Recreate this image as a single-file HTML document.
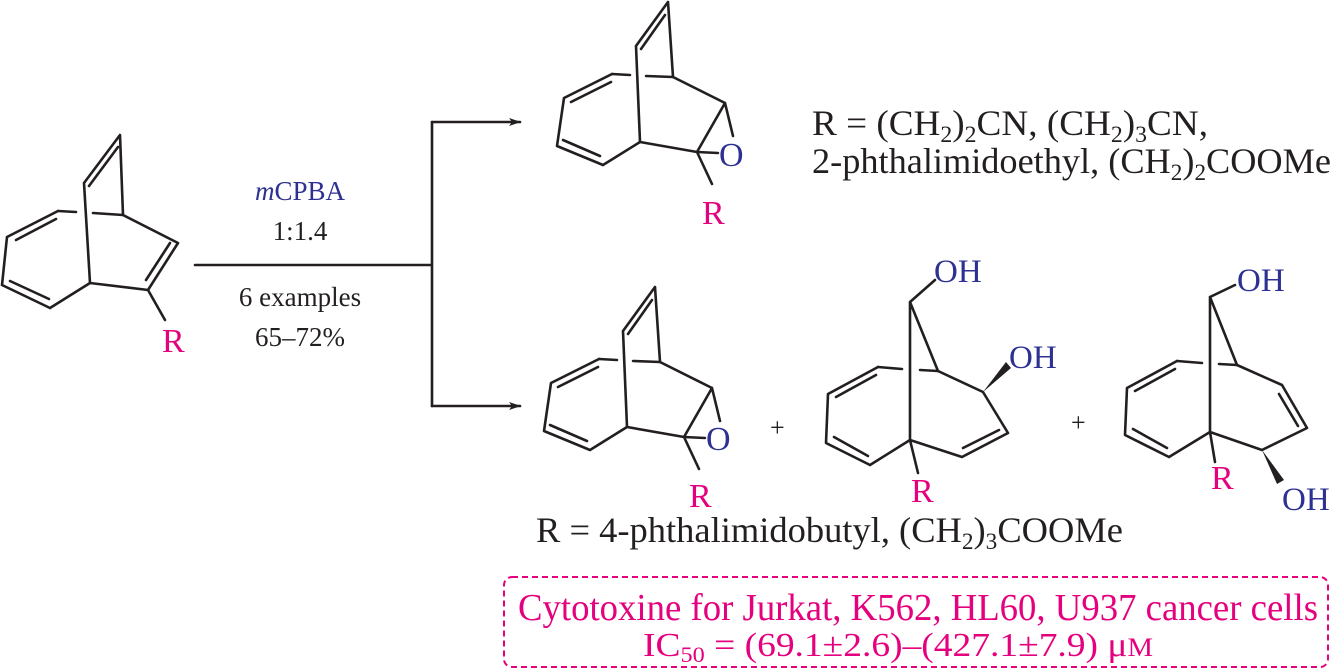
<!DOCTYPE html>
<html><head><meta charset="utf-8"><style>
html,body{margin:0;padding:0;background:#fff}
svg{display:block}
text{font-family:"Liberation Serif",serif}
.b{stroke:#231f20;stroke-width:2.6;fill:none;stroke-linecap:round;stroke-linejoin:round}
.m{fill:#e5007e}
.u{fill:#2e3192}
.k{fill:#231f20}
</style></head><body>
<svg width="1333" height="671" viewBox="0 0 1333 671" xmlns="http://www.w3.org/2000/svg">
<defs>
<marker id="ah" markerWidth="12" markerHeight="8" refX="11" refY="4" orient="auto" markerUnits="userSpaceOnUse">
<path d="M0,0 L12,4 L0,8 L3,4 Z" fill="#231f20"/></marker>
</defs>

<!-- starting material -->
<g class="b">
<path d="M120,135 L84,183 M89,186 L118,147 M120,135 L123,215 M84,183 L90,283"/>
<path d="M58,211 L76,212 M93,213 L123,215"/>
<path d="M58,211 L7,237 M56,219 L16,240 M7,237 L2,285 M2,285 L50,308 M10,281 L49,299 M50,308 L90,283 L148,290 L178,243 M146,280 L170,243 M178,243 L123,215 M148,290 L165,320"/>
</g>
<text x="162" y="352" font-size="34" class="m">R</text>

<!-- reagents -->
<text x="300" y="200" font-size="27" text-anchor="middle" class="u"><tspan font-style="italic">m</tspan>CPBA</text>
<text x="300" y="240" font-size="27" text-anchor="middle" class="k">1:1.4</text>
<text x="300" y="306" font-size="27" text-anchor="middle" class="k">6 examples</text>
<text x="300" y="346" font-size="27" text-anchor="middle" class="k">65–72%</text>

<!-- arrows -->
<g class="b" stroke-width="1.8">
<path d="M195,265 L432,265 M432,122 L432,406"/>
<path d="M432,122 L520,122" marker-end="url(#ah)"/>
<path d="M432,406 L520,406" marker-end="url(#ah)"/>
</g>

<!-- top epoxide -->
<g class="b">
<path d="M668,2 L636,46 M641,49 L665,15 M668,2 L673,77 M636,46 L640,142"/>
<path d="M612,74 L630,75 M646,76 L673,77"/>
<path d="M612,74 L564,98 M611,82 L571,102 M564,98 L557,146 L603,165 M563,140 L600,156 M603,165 L640,142 L697,152 L725,103 L673,77 M725,103 L733,136 M697,152 L718,153 M697,152 L712,184"/>
</g>
<text x="719" y="166" font-size="34" class="u">O</text>
<text x="702" y="224" font-size="34" class="m">R</text>

<text x="812" y="135" font-size="36" class="k" textLength="396" lengthAdjust="spacingAndGlyphs">R = (CH<tspan font-size="23" dy="7">2</tspan><tspan dy="-7">)</tspan><tspan font-size="23" dy="7">2</tspan><tspan dy="-7">CN, (CH</tspan><tspan font-size="23" dy="7">2</tspan><tspan dy="-7">)</tspan><tspan font-size="23" dy="7">3</tspan><tspan dy="-7">CN,</tspan></text>
<text x="812" y="173" font-size="36" class="k" textLength="519" lengthAdjust="spacingAndGlyphs">2-phthalimidoethyl, (CH<tspan font-size="23" dy="7">2</tspan><tspan dy="-7">)</tspan><tspan font-size="23" dy="7">2</tspan><tspan dy="-7">COOMe</tspan></text>

<!-- bottom epoxide -->
<g class="b" transform="translate(-13,285)">
<path d="M668,2 L636,46 M641,49 L665,15 M668,2 L673,77 M636,46 L640,142"/>
<path d="M612,74 L630,75 M646,76 L673,77"/>
<path d="M612,74 L564,98 M611,82 L571,102 M564,98 L557,146 L603,165 M563,140 L600,156 M603,165 L640,142 L697,152 L725,103 L673,77 M725,103 L733,136 M697,152 L718,153 M697,152 L712,184"/>
</g>
<text x="706" y="450" font-size="34" class="u">O</text>
<text x="689" y="507" font-size="34" class="m">R</text>

<text x="770" y="436" font-size="26" class="k">+</text>
<text x="1071" y="431" font-size="26" class="k">+</text>

<!-- middle diol -->
<g class="b">
<path d="M910,302 L935,280 M910,302 L910,440 M910,302 L938,371"/>
<path d="M878,367 L902,369 M920,370 L938,371"/>
<path d="M878,367 L828,394 M876,375 L836,397 M828,394 L826,443 L870,465 M834,437 L868,456 M870,465 L910,440 L962,457 L1008,433 M963,448 L999,430 M1008,433 L983,392 L938,371 M910,440 L918,473"/>
</g>
<path d="M983,392 L1006,362 L1011,368 Z" fill="#231f20"/>
<text x="934" y="282" font-size="33" class="u">OH</text>
<text x="1009" y="368" font-size="33" class="u">OH</text>
<text x="911" y="502" font-size="34" class="m">R</text>

<!-- right diol -->
<g class="b">
<path d="M1210,297 L1235,285 M1210,297 L1210,432 M1210,297 L1237,365"/>
<path d="M1177,361 L1202,363 M1219,364 L1237,365"/>
<path d="M1177,361 L1127,388 M1175,369 L1135,391 M1127,388 L1125,435 L1169,457 M1133,429 L1167,448 M1169,457 L1210,432 L1262,450 L1307,428 L1282,385 M1298,426 L1279,394 M1282,385 L1237,365 M1210,432 L1215,462"/>
</g>
<path d="M1262,450 L1277,484 L1284,480 Z" fill="#231f20"/>
<text x="1237" y="291" font-size="33" class="u">OH</text>
<text x="1282" y="510" font-size="33" class="u">OH</text>
<text x="1211" y="489" font-size="34" class="m">R</text>

<text x="536" y="542" font-size="36" class="k" textLength="587" lengthAdjust="spacingAndGlyphs">R = 4-phthalimidobutyl, (CH<tspan font-size="23" dy="7">2</tspan><tspan dy="-7">)</tspan><tspan font-size="23" dy="7">3</tspan><tspan dy="-7">COOMe</tspan></text>

<!-- box -->
<rect x="504" y="577" width="824" height="90" rx="8" fill="none" stroke="#e5007e" stroke-width="2" stroke-dasharray="6,4"/>
<text x="518" y="620" font-size="38" class="m" textLength="800" lengthAdjust="spacingAndGlyphs">Cytotoxine for Jurkat, K562, HL60, U937 cancer cells</text>
<text x="643" y="656" font-size="34" class="m" textLength="510" lengthAdjust="spacingAndGlyphs">IC<tspan font-size="22" dy="6">50</tspan><tspan dy="-6"> = (69.1±2.6)–(427.1±7.9)  μ</tspan><tspan font-size="26">M</tspan></text>
</svg>
</body></html>
